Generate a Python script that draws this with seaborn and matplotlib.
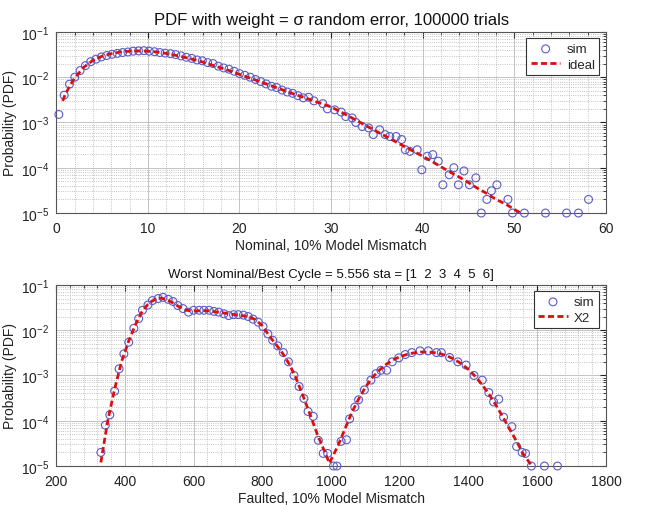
import numpy as np
import pandas as pd
import matplotlib
matplotlib.use("Agg")
import matplotlib.pyplot as plt
import seaborn as sns
from matplotlib.ticker import MultipleLocator, LogLocator, NullFormatter

# ---------------- data: top panel (nominal) ----------------
top_sim_x = [0.29, 0.87, 1.45, 2.03, 2.61, 3.19, 3.77, 4.35, 4.93, 5.51, 6.09, 6.67,
             7.25, 7.83, 8.41, 8.99, 9.57, 10.15, 10.73, 11.31, 11.89, 12.47, 13.05,
             13.63, 14.21, 14.79, 15.37, 15.95, 16.53, 17.11, 17.69, 18.27, 18.85,
             19.43, 20.01, 20.59, 21.17, 21.75, 22.33, 22.91, 23.49, 24.07, 24.65,
             25.23, 25.81, 26.39, 26.97, 27.55, 28.13,
             29.1, 29.6, 30.4, 31.1, 31.6, 32.3, 32.7, 33.4, 34.1, 34.6, 35.3, 35.9,
             36.4, 37.1, 37.7, 38.1, 38.6, 39.4, 39.9, 40.5, 41.1, 41.7, 42.2, 42.9,
             43.4, 43.9, 44.5, 45.1, 45.8, 46.4, 47.0, 47.5, 48.1, 49.3, 49.8, 51.1,
             53.4, 55.7, 57.0, 58.1]
top_sim_y = [1.5e-3, 4.0e-3, 7.0e-3, 1.0e-2, 1.4e-2, 1.8e-2, 2.2e-2, 2.5e-2, 2.8e-2,
             3.0e-2, 3.2e-2, 3.35e-2, 3.5e-2, 3.6e-2, 3.75e-2, 3.8e-2, 3.85e-2,
             3.75e-2, 3.65e-2, 3.5e-2, 3.4e-2, 3.3e-2, 3.15e-2, 2.95e-2, 2.75e-2,
             2.6e-2, 2.4e-2, 2.3e-2, 2.1e-2, 2.0e-2, 1.75e-2, 1.6e-2, 1.5e-2,
             1.35e-2, 1.2e-2, 1.1e-2, 1.0e-2, 8.9e-3, 8.0e-3, 7.1e-3, 6.3e-3,
             5.9e-3, 5.2e-3, 4.7e-3, 4.4e-3, 3.9e-3, 3.5e-3, 3.6e-3, 3.0e-3,
             2.6e-3, 2.0e-3, 1.9e-3, 1.7e-3, 1.35e-3, 1.26e-3, 1.0e-3, 8.1e-4,
             7.6e-4, 5.4e-4, 6.9e-4, 5.4e-4, 4.9e-4, 4.9e-4, 4.2e-4, 2.5e-4,
             2.3e-4, 2.5e-4, 9.0e-5, 1.8e-4, 1.95e-4, 1.4e-4, 4.2e-5, 7.0e-5,
             1.0e-4, 4.2e-5, 8.5e-5, 4.2e-5, 6.0e-5, 1.0e-5, 2.0e-5, 3.1e-5,
             4.2e-5, 2.0e-5, 1.0e-5, 1.0e-5, 1.0e-5, 1.0e-5, 1.0e-5, 2.0e-5]

top_ideal_x = [0.7, 1, 1.5, 2, 3, 4, 5, 6, 7, 8, 9, 10, 11, 12, 13, 14, 15, 16, 17,
               18, 19, 20, 21, 22, 23, 24, 25, 26, 27, 28, 29, 30, 31, 32, 33, 34,
               35, 36, 37, 38, 39, 40, 41, 42, 43, 44, 45, 46, 47, 48, 49, 50, 50.7]
top_ideal_y = [3.0e-3, 4.2e-3, 6.5e-3, 9.5e-3, 1.65e-2, 2.35e-2, 2.9e-2, 3.3e-2,
               3.6e-2, 3.75e-2, 3.8e-2, 3.75e-2, 3.6e-2, 3.35e-2, 3.05e-2, 2.75e-2,
               2.45e-2, 2.15e-2, 1.85e-2, 1.6e-2, 1.37e-2, 1.15e-2, 9.8e-3, 8.3e-3,
               7.0e-3, 5.9e-3, 5.0e-3, 4.2e-3, 3.6e-3, 3.05e-3, 2.6e-3, 2.2e-3,
               1.74e-3, 1.35e-3, 1.05e-3, 8.1e-4, 6.3e-4, 4.9e-4, 3.8e-4, 2.95e-4,
               2.3e-4, 1.8e-4, 1.38e-4, 1.05e-4, 8.0e-5, 6.2e-5, 4.7e-5, 3.5e-5,
               2.7e-5, 2.0e-5, 1.6e-5, 1.2e-5, 1.0e-5]

# ---------------- data: bottom panel (faulted) ----------------
bot_sim_x = [330, 343, 356, 370, 383, 397, 411, 426, 440, 451, 467, 480, 497, 511,
             526, 540, 554, 569, 585, 600, 616, 630, 645, 659, 673, 688, 702, 716,
             730, 745, 759, 773, 788, 802, 816, 830, 845, 861, 876, 892, 907, 921,
             933, 948, 963, 977, 990, 1007, 1017, 1029, 1045, 1054, 1069, 1080,
             1097, 1116, 1131, 1145, 1162, 1178, 1197, 1216, 1235, 1259, 1283,
             1307, 1321, 1345, 1369, 1393, 1416, 1440, 1459, 1473, 1488, 1502,
             1526, 1540, 1556, 1566, 1583, 1621, 1659]
bot_sim_y = [2.0e-5, 8.0e-5, 1.35e-4, 4.5e-4, 1.4e-3, 3.0e-3, 5.4e-3, 1.1e-2,
             1.8e-2, 2.75e-2, 3.6e-2, 4.5e-2, 5.0e-2, 5.3e-2, 4.8e-2, 4.3e-2,
             3.5e-2, 3.0e-2, 2.5e-2, 2.75e-2, 2.75e-2, 2.75e-2, 2.75e-2, 2.6e-2,
             2.5e-2, 2.3e-2, 2.1e-2, 2.2e-2, 2.2e-2, 2.15e-2, 2.0e-2, 1.75e-2,
             1.5e-2, 1.2e-2, 8.3e-3, 6.0e-3, 4.5e-3, 3.2e-3, 2.0e-3, 1.0e-3,
             5.7e-4, 3.1e-4, 1.6e-4, 1.25e-4, 3.7e-5, 1.9e-5, 1.9e-5, 1.0e-5,
             1.0e-5, 3.5e-5, 3.8e-5, 1.1e-4, 2.0e-4, 2.9e-4, 4.8e-4, 7.9e-4,
             1.1e-3, 1.3e-3, 1.3e-3, 2.0e-3, 2.45e-3, 2.9e-3, 3.2e-3, 3.5e-3,
             3.5e-3, 3.2e-3, 3.2e-3, 2.5e-3, 2.0e-3, 1.7e-3, 1.0e-3, 7.9e-4,
             4.2e-4, 2.6e-4, 3.0e-4, 1.2e-4, 7.4e-5, 2.7e-5, 2.0e-5, 1.9e-5,
             1.0e-5, 1.0e-5, 1.0e-5]

bot_x2_x = [330, 350, 370, 390, 410, 430, 450, 470, 490, 505, 520, 540, 560, 580,
            600, 640, 680, 720, 760, 780, 800, 820, 840, 860, 880, 900, 920, 940,
            960, 980, 995, 1020, 1040, 1060, 1080, 1100, 1120, 1140, 1160, 1180,
            1200, 1220, 1240, 1260, 1280, 1300, 1320, 1340, 1360, 1380, 1400,
            1420, 1440, 1460, 1480, 1500, 1520, 1540, 1560, 1585]
bot_x2_y = [1.2e-5, 1.0e-4, 5.0e-4, 2.0e-3, 5.5e-3, 1.3e-2, 2.6e-2, 4.0e-2,
            4.9e-2, 5.1e-2, 4.8e-2, 4.0e-2, 3.2e-2, 2.75e-2, 2.65e-2, 2.7e-2,
            2.45e-2, 2.2e-2, 2.0e-2, 1.7e-2, 1.25e-2, 7.5e-3, 4.8e-3, 3.0e-3,
            1.7e-3, 8.0e-4, 3.3e-4, 1.3e-4, 5.0e-5, 2.2e-5, 1.15e-5, 2.8e-5,
            6.5e-5, 1.5e-4, 3.0e-4, 5.5e-4, 9.0e-4, 1.3e-3, 1.75e-3, 2.2e-3,
            2.6e-3, 2.9e-3, 3.15e-3, 3.3e-3, 3.3e-3, 3.2e-3, 3.0e-3, 2.65e-3,
            2.25e-3, 1.8e-3, 1.35e-3, 9.5e-4, 6.2e-4, 3.8e-4, 2.2e-4, 1.2e-4,
            6.5e-5, 3.5e-5, 1.8e-5, 1.0e-5]

top_title = "PDF with weight = σ random error, 100000 trials"
bot_title = "Worst Nominal/Best Cycle = 5.556 sta = [1  2  3  4  5  6]"
top_xlabel = "Nominal, 10% Model Mismatch"
bot_xlabel = "Faulted, 10% Model Mismatch"
ylabel = "Probability (PDF)"

# ---------------- style ----------------
sns.set_style("white")
plt.rcParams["font.family"] = ["Liberation Sans", "DejaVu Sans"]
plt.rcParams["mathtext.fontset"] = "custom"
plt.rcParams["mathtext.rm"] = "Liberation Sans"
plt.rcParams["mathtext.it"] = "Liberation Sans:italic"

SIM_COLOR = "#5b5bc8"
LINE_COLOR = "#d81010"

fig = plt.figure(figsize=(6.46, 5.06), dpi=100)
ax1 = fig.add_axes([0.087, 0.577, 0.851, 0.358])
ax2 = fig.add_axes([0.087, 0.077, 0.851, 0.358])


def draw(ax, sx, sy, lx, ly, line_label, xlim, xmajor, xminor):
    df_s = pd.DataFrame({"x": sx, "y": sy})
    df_l = pd.DataFrame({"x": lx, "y": ly})
    sns.scatterplot(data=df_s, x="x", y="y", ax=ax, marker="o", s=32,
                    label="sim", zorder=3, clip_on=False)
    coll = ax.collections[-1]
    coll.set_facecolor("none")
    coll.set_edgecolor(SIM_COLOR)
    coll.set_linewidth(0.8)
    sns.lineplot(data=df_l, x="x", y="y", ax=ax, color=LINE_COLOR,
                 linestyle=(0, (2.2, 1.2)), linewidth=2.0, label=line_label,
                 zorder=4, sort=False)
    ax.set_yscale("log")
    ax.set_ylim(1e-5, 1e-1)
    ax.set_xlim(*xlim)
    ax.xaxis.set_major_locator(MultipleLocator(xmajor))
    ax.xaxis.set_minor_locator(MultipleLocator(xminor))
    ax.yaxis.set_major_locator(LogLocator(base=10, numticks=10))
    ax.yaxis.set_minor_locator(LogLocator(base=10, subs=np.arange(2, 10), numticks=20))
    ax.yaxis.set_minor_formatter(NullFormatter())
    ax.grid(True, which="major", color="#c4c4c4", linestyle="-", linewidth=0.7)
    ax.grid(True, which="minor", color="#b0b0b0", linestyle=":", linewidth=0.6)
    ax.set_axisbelow(True)
    for sp in ax.spines.values():
        sp.set_color("#555555")
        sp.set_linewidth(0.8)
    ax.tick_params(which="both", direction="in", top=True, right=True,
                   labelsize=10, colors="#222222")
    ax.tick_params(axis="x", which="major", length=4, pad=6)
    ax.tick_params(axis="y", which="major", length=4, pad=5)
    ax.tick_params(which="minor", length=2)
    ax.set_ylabel(ylabel, fontsize=10, color="#222222", labelpad=3)
    leg = ax.legend(loc="upper right", frameon=True, fancybox=False,
                    fontsize=9.5, handlelength=2.2, borderpad=0.35,
                    labelspacing=0.25, handletextpad=0.5,
                    borderaxespad=0.5)
    leg.get_frame().set_edgecolor("#333333")
    leg.get_frame().set_linewidth(0.8)
    leg.get_frame().set_alpha(1)


draw(ax1, top_sim_x, top_sim_y, top_ideal_x, top_ideal_y, "ideal", (0, 60), 10, 2)
draw(ax2, bot_sim_x, bot_sim_y, bot_x2_x, bot_x2_y, "X2", (200, 1800), 200, 40)

ax1.set_title(top_title, fontsize=12, color="#111111", pad=6)
ax2.set_title(bot_title, fontsize=9.5, color="#111111", pad=6)
ax1.set_xlabel(top_xlabel, fontsize=10, color="#222222", labelpad=2)
ax2.set_xlabel(bot_xlabel, fontsize=10, color="#222222", labelpad=2)

fig.savefig("out.png", dpi=100, facecolor="white")
